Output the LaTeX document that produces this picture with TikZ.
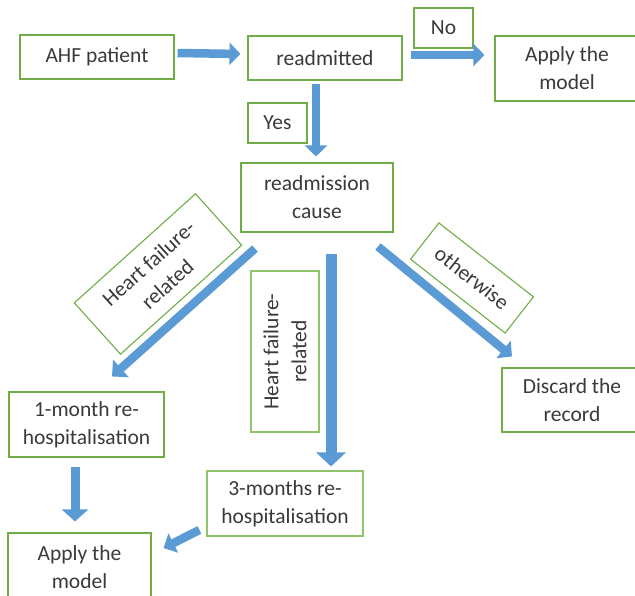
\documentclass[tikz,border=0pt]{standalone}
\usepackage{fontspec}
\setmainfont{Carlito}
\usetikzlibrary{arrows.meta,calc}
\definecolor{boxgreen}{HTML}{70AD47}
\definecolor{lightgreen}{HTML}{8FC46A}
\definecolor{arrowblue}{HTML}{5B9BD5}
\definecolor{txt}{HTML}{3A3A3A}
\begin{document}
\begin{tikzpicture}[x=1pt,y=-1pt,
  box/.style={draw=boxgreen,line width=1.1pt,inner sep=0pt,align=center,text=txt,
    font=\fontsize{21.5}{28}\selectfont},
  lbox/.style={box,draw=lightgreen},
  barrow/.style={arrowblue,line width=8.5pt,-{Triangle[width=22pt,length=11pt]}},
  bigarrow/.style={arrowblue,line width=11pt,-{Triangle[width=29pt,length=14pt]}}
]
\useasboundingbox (0,0) rectangle (635,596);
\fill[white] (0,0) rectangle (635,596);

\node[box,minimum width=154pt,minimum height=44pt] (ahf) at (97,57) {AHF patient};
\node[box,minimum width=154pt,minimum height=44pt] (readm) at (325,58) {readmitted};
\node[box,minimum width=59pt,minimum height=40pt] (no) at (443.5,28) {No};
\node[box,minimum width=144pt,minimum height=65pt] (apply1) at (567,68.5) {Apply the\\model};
\node[box,minimum width=59pt,minimum height=40pt] (yes) at (277.5,123) {Yes};
\node[box,minimum width=152pt,minimum height=69pt] (cause) at (317,197.5) {readmission\\cause};
\node[box,minimum width=163pt,minimum height=69pt,rotate=42] (hf1) at (158,274) {Heart failure-\\related};
\node[lbox,minimum width=161pt,minimum height=68pt,rotate=90] (hf2) at (285,351.5) {Heart failure-\\related};
\node[box,minimum width=120pt,minimum height=46pt,rotate=-38] (other) at (472,278) {otherwise};
\node[box,minimum width=140pt,minimum height=64pt] (discard) at (572,400) {Discard the\\record};
\node[box,minimum width=155pt,minimum height=65pt] (onemonth) at (86.5,424.5) {1-month re-\\hospitalisation};
\node[lbox,minimum width=156pt,minimum height=65pt] (threemonth) at (285,503.5) {3-months re-\\hospitalisation};
\node[box,minimum width=143pt,minimum height=69pt] (apply2) at (79.5,567.5) {Apply the\\model};

\draw[barrow] ($(ahf.east)+(3,-4)$) -- ($(readm.west)+(-7,-4)$);
\draw[barrow] ($(readm.east)+(8,-3)$) -- ($(apply1.west)+(-10,-13.5)$);
\draw[barrow] ($(readm.south)+(-9,3)$) -- ($(cause.north)+(-1,-6)$);
\draw[barrow,-{Triangle[width=23pt,length=12pt]}] ($(cause.south)+(-62,16)$) -- ($(onemonth.north)+(25.5,-15)$);
\draw[bigarrow] ($(cause.south)+(14,21)$) -- ($(threemonth.north)+(46,-4)$);
\draw[barrow] ($(cause.south)+(61,14)$) -- ($(discard.north)+(-60,-11)$);
\draw[barrow,line width=9pt,-{Triangle[width=26pt,length=12pt]}] ($(onemonth.south)+(-11.5,9)$) -- ($(apply2.north)+(-4.5,-11)$);
\draw[barrow,-{Triangle[width=21pt,length=11pt]}] ($(threemonth.west)+(-7,26.5)$) -- ($(apply2.east)+(12,-19.5)$);
\end{tikzpicture}
\end{document}
